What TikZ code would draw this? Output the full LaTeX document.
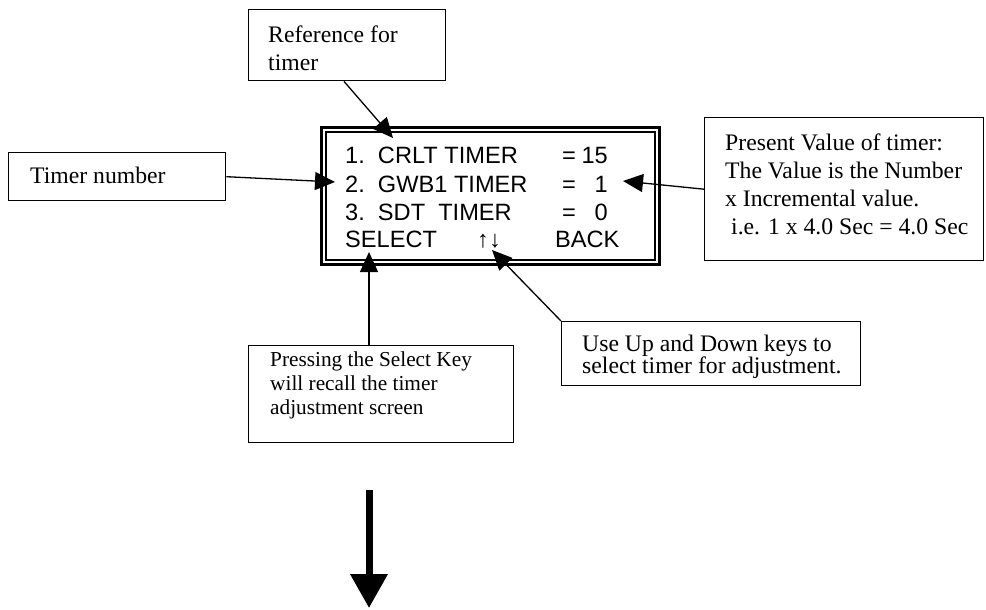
\documentclass[tikz,border=0pt]{standalone}
\usepackage{fontspec}
\setmainfont{Liberation Serif}
\newfontfamily\lcdfont{Liberation Sans}
\usetikzlibrary{arrows.meta,calc}

\begin{document}
\begin{tikzpicture}[x=1pt,y=-1pt,
    callout/.style={draw,line width=1.4pt,anchor=north west,inner sep=0pt},
    note/.style={anchor=north west,align=left,inner sep=0pt,font=\fontsize{23.7}{28}\selectfont},
    lcd/.style={anchor=base west,inner sep=0pt,font=\lcdfont\fontsize{23.6}{28}\selectfont},
    pointer/.style={line width=1.3pt,-{Triangle[length=20pt,width=18pt]}}]
    \useasboundingbox (0,0) rectangle (986,610);

    \node[callout,minimum width=197,minimum height=71] (refbox) at (248,9) {};
    \node[note] (reftext) at (268,26) {Reference for\\timer};
    \node[callout,minimum width=217,minimum height=48] (numbox) at (8,152) {};
    \node[note] (numtext) at (30,167) {Timer number};
    \node[callout,minimum width=279,minimum height=143] (valbox) at (704,117) {};
    \node[note] (valtext) at (725,134) {Present Value of timer:\\The Value is the Number\\x Incremental value.\\\hspace*{6pt}i.e. 1 x 4.0 Sec = 4.0 Sec};
    \node[callout,minimum width=299,minimum height=64] (keybox) at (561,321) {};
    \node[note,font=\fontsize{23.7}{22}\selectfont] (keytext) at (582,335) {Use Up and Down keys to\\select timer for adjustment.};
    \node[callout,minimum width=265,minimum height=97] (selbox) at (248,345) {};
    \node[note,font=\fontsize{21.3}{24}\selectfont] (seltext) at (270,352) {Pressing the Select Key\\will recall the timer\\adjustment screen};

    \node[draw,line width=3pt,minimum width=338,minimum height=137,anchor=north west,inner sep=0pt] (screen) at (320,126) {};
    \draw[line width=1.3pt] ([shift={(6,6)}]screen.north west) rectangle ([shift={(-6,-6)}]screen.south east);
    \node[lcd] (row1) at (345,163) {1.\ \ CRLT TIMER};
    \node[lcd] (row2) at (345,192) {2.\ \ GWB1 TIMER};
    \node[lcd] (row3) at (345,220) {3.\ \ SDT\ \ TIMER};
    \node[lcd] (row4) at (345,247) {SELECT};
    \node[lcd] (updown) at (477,247) {↑↓};
    \node[lcd] (back) at (555,247) {BACK};
    \foreach \y/\v [count=\i] in {163/15,192/1,220/0} {
        \node[lcd] (eq\i) at (562,\y) {=};
        \node[lcd,anchor=base east] (v\i) at (608,\y) {\v};
    }

    \coordinate (reftip) at (393,138);
    \coordinate (numtip) at (335,182);
    \coordinate (valtip) at (623,181);
    \coordinate (seltip) at (369,252);
    \coordinate (keytip) at (492,250);
    \draw[pointer] ($(refbox.south west)+(96,0)$) -- (reftip);
    \draw[pointer] (numbox.east) -- (numtip);
    \draw[pointer] (valbox.west) -- (valtip);
    \draw[pointer] (selbox.north -| seltip) -- (seltip);
    \draw[pointer] (keybox.north west) -- (keytip);

    \coordinate (nexttop) at (369,490);
    \coordinate (nextend) at (369,608);
    \draw[line width=7pt,-{Triangle[length=34pt,width=36pt]}] (nexttop) -- (nextend);
\end{tikzpicture}
\end{document}
